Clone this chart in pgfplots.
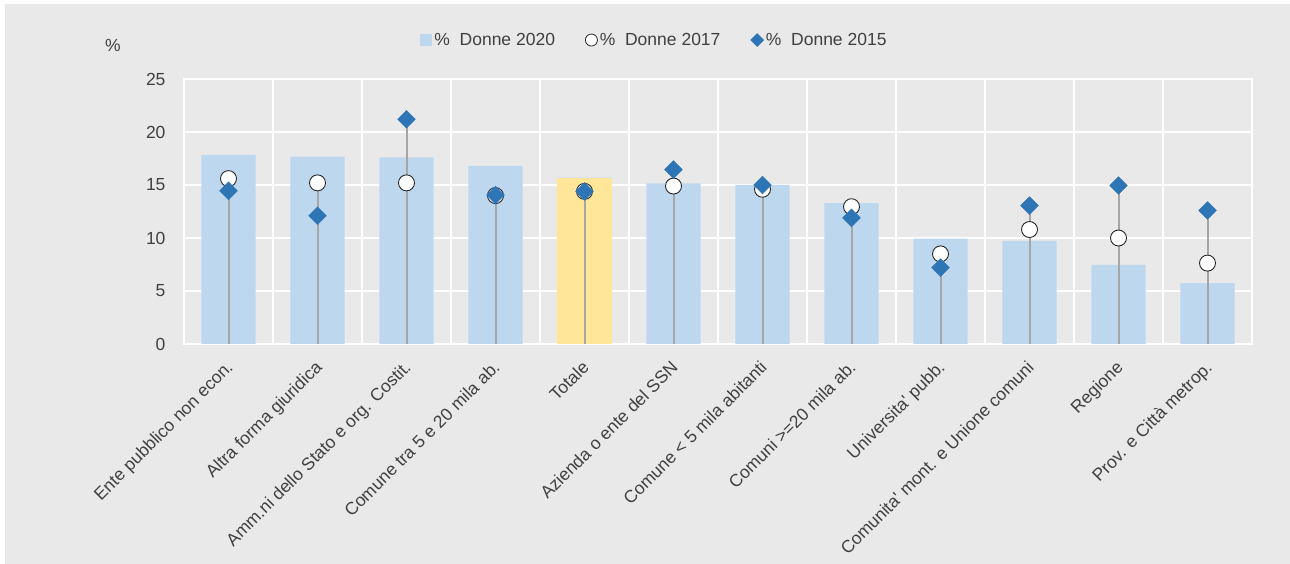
\documentclass[border=0pt]{standalone}
\usepackage{fontspec}
\setmainfont{Liberation Sans}
\usepackage{pgfplots}
\pgfplotsset{compat=1.18}
\definecolor{panel}{HTML}{E9E9E9}
\definecolor{bar20}{HTML}{BDD7EE}
\definecolor{tot20}{HTML}{FFE699}
\definecolor{dia15}{HTML}{2E75B6}
\definecolor{stem}{HTML}{A6A6A6}
\definecolor{txt}{HTML}{404040}
\newcommand\lf{\fontsize{17.5}{20}\selectfont}

\begin{document}
\begin{tikzpicture}[x=1pt,y=1pt]
\fill[white] (0,0) rectangle (1290,564);
\fill[panel] (5,0) rectangle (1290,560);
\begin{axis}[
  at={(184pt,220pt)}, anchor=south west,
  scale only axis, width=1068pt, height=265pt,
  xmin=-0.5, xmax=11.5, ymin=0, ymax=25,
  xtick={0,...,11},
  xticklabels={Ente pubblico non econ., Altra forma giuridica, Amm.ni dello Stato e org. Costit., Comune tra 5 e 20 mila ab., Totale, Azienda o ente del SSN, Comune < 5 mila abitanti, Comuni >=20 mila ab., Universita\textquotesingle{} pubb., Comunita\textquotesingle{} mont. e Unione comuni, Regione, Prov. e Città metrop.},
  minor xtick={-0.5,0.5,...,11.5},
  ytick={0,5,...,25},
  major tick length=0pt, minor tick length=0pt,
  xminorgrids=true, ymajorgrids=true,
  grid style={white, line width=2pt},
  minor grid style={white, line width=2pt},
  axis line style={white, line width=2pt},
  /pgf/number format/assume math mode=true,
  tick label style={font=\lf, text=txt},
  yticklabel style={xshift=-15pt},
  xticklabel style={rotate=45, anchor=north east, yshift=-5pt, xshift=-10pt},
  legend style={at={(0.4405,1.147)}, anchor=center, legend columns=3,
    draw=none, fill=none, font=\lf, text=txt,
    /tikz/every even column/.append style={column sep=28pt}},
  legend cell align=left,
]
% 2020 bars
\addplot[ybar, bar width=0.61, bar shift=0pt, fill=bar20, draw=none,
  legend image code/.code={\fill[bar20] (0pt,-6pt) rectangle (12pt,6pt);}]
  coordinates {(0,17.85) (1,17.67) (2,17.6) (3,16.8) (4,15.7) (5,15.15)
    (6,15.0) (7,13.3) (8,9.95) (9,9.73) (10,7.47) (11,5.75)};
\addlegendentry{\%\ \ Donne 2020}
\addplot[ybar, bar width=0.61, bar shift=0pt, fill=tot20, draw=none, forget plot]
  coordinates {(4,15.7)};
% stems up to the higher of 2017 and 2015
\addplot[ycomb, no markers, draw=stem, line width=2pt, forget plot]
  coordinates {(0,15.6) (1,15.2) (2,21.2) (3,14.05) (4,14.4) (5,16.45)
    (6,15.0) (7,12.95) (8,8.5) (9,13.05) (10,14.95) (11,12.6)};
% 2017
\addplot[only marks, mark=*, mark size=8pt,
  mark options={fill=white, draw=black!85, line width=0.9pt},
  legend image code/.code={\draw[black!85, fill=white, line width=0.8pt] (6pt,0pt) circle (6pt);}]
  coordinates {(0,15.6) (1,15.2) (2,15.2) (3,14.0) (4,14.4) (5,14.9)
    (6,14.6) (7,12.95) (8,8.5) (9,10.8) (10,10.0) (11,7.63)};
\addlegendentry{\%\ \ Donne 2017}
% 2015
\addplot[only marks, mark=square*, mark size=6.3pt,
  mark options={fill=dia15, draw=dia15, rotate=45},
  legend image code/.code={\fill[dia15] (6pt,-6.5pt) -- (12.5pt,0pt) -- (6pt,6.5pt) -- (-0.5pt,0pt) -- cycle;}]
  coordinates {(0,14.45) (1,12.1) (2,21.2) (3,14.05) (4,14.4) (5,16.45)
    (6,15.0) (7,11.9) (8,7.2) (9,13.05) (10,14.95) (11,12.6)};
\addlegendentry{\%\ \ Donne 2015}
\end{axis}
\node[font=\lf, text=txt] at (113,519) {\%};
\pgfresetboundingbox
\path (0,0) rectangle (1290,564);
\end{tikzpicture}
\end{document}
